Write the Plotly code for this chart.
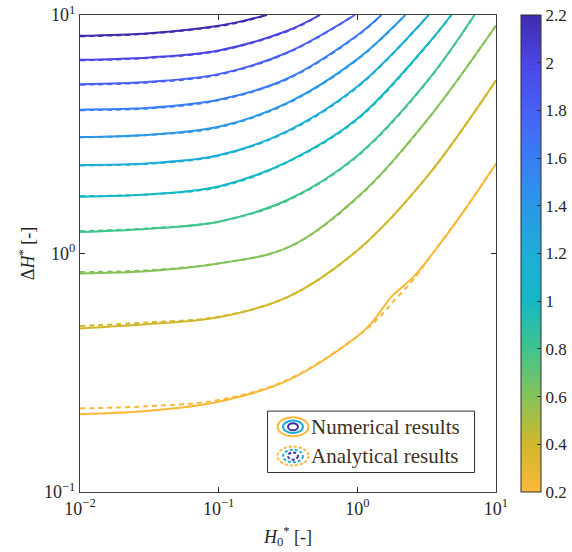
import plotly.graph_objects as go

# ---------------- data ----------------
levels = [0.2, 0.4, 0.6, 0.8, 1.0, 1.2, 1.4, 1.6, 1.8, 2.0, 2.2]
level_ticktext = ["0.2", "0.4", "0.6", "0.8", "1", "1.2", "1.4", "1.6", "1.8", "2", "2.2"]

# numerical results (solid lines)
num_x_02 = [0.01, 0.0316, 0.1, 0.316, 0.96, 1.26, 1.76, 2.52, 3.49, 5.93, 10.0]
num_y_02 = [0.212, 0.219, 0.239, 0.294, 0.441, 0.509, 0.658, 0.794, 1.00, 1.52, 2.38]
num_x_04 = [0.01, 0.0316, 0.1, 0.316, 1.0, 3.16, 10.0]
num_y_04 = [0.485, 0.506, 0.540, 0.658, 1.03, 2.09, 5.32]
num_x_06 = [0.01, 0.0316, 0.1, 0.316, 1.0, 3.16, 10.0]
num_y_06 = [0.824, 0.845, 0.908, 1.06, 1.72, 3.61, 9.04]
num_x_08 = [0.01, 0.0316, 0.1, 0.316, 1.0, 3.16, 7.0]
num_y_08 = [1.23, 1.27, 1.36, 1.68, 2.57, 5.24, 10.0]
num_x_10 = [0.01, 0.0316, 0.1, 0.316, 1.0, 3.16, 4.76]
num_y_10 = [1.73, 1.77, 1.91, 2.43, 3.67, 7.45, 10.0]
num_x_12 = [0.01, 0.0316, 0.1, 0.316, 1.0, 3.27]
num_y_12 = [2.35, 2.39, 2.58, 3.27, 5.01, 10.0]
num_x_14 = [0.01, 0.0316, 0.1, 0.316, 1.0, 2.22]
num_y_14 = [3.08, 3.15, 3.40, 4.29, 6.53, 10.0]
num_x_16 = [0.01, 0.0316, 0.1, 0.316, 1.0, 1.49]
num_y_16 = [4.01, 4.08, 4.41, 5.43, 8.22, 10.0]
num_x_18 = [0.01, 0.0316, 0.1, 0.316, 0.96]
num_y_18 = [5.12, 5.25, 5.65, 6.98, 10.0]
num_x_20 = [0.01, 0.0316, 0.1, 0.316, 0.537]
num_y_20 = [6.49, 6.64, 7.10, 8.61, 10.0]
num_x_22 = [0.01, 0.0316, 0.1, 0.147, 0.223]
num_y_22 = [8.18, 8.39, 9.02, 9.42, 10.0]

# analytical results (dashed lines)
ana_x_02 = [0.01, 0.0316, 0.1, 0.316, 0.96, 1.26, 1.53, 1.81, 2.52, 3.49, 5.93, 10.0]
ana_y_02 = [0.224, 0.229, 0.243, 0.296, 0.441, 0.501, 0.561, 0.627, 0.774, 1.00, 1.52, 2.38]
ana_x_04 = [0.01, 0.0316, 0.1, 0.316, 1.0, 3.16, 10.0]
ana_y_04 = [0.497, 0.514, 0.543, 0.658, 1.03, 2.09, 5.32]
ana_x_06 = [0.01, 0.0316, 0.1, 0.316, 1.0, 3.16, 10.0]
ana_y_06 = [0.836, 0.851, 0.910, 1.06, 1.71, 3.60, 9.04]
ana_x_08 = [0.01, 0.0316, 0.1, 0.316, 1.0, 3.16, 7.0]
ana_y_08 = [1.24, 1.275, 1.36, 1.67, 2.56, 5.22, 10.0]
ana_x_10 = [0.01, 0.0316, 0.1, 0.316, 1.0, 3.16, 4.76]
ana_y_10 = [1.74, 1.77, 1.90, 2.42, 3.65, 7.42, 10.0]
ana_x_12 = [0.01, 0.0316, 0.1, 0.316, 1.0, 3.27]
ana_y_12 = [2.34, 2.38, 2.57, 3.25, 4.98, 10.0]
ana_x_14 = [0.01, 0.0316, 0.1, 0.316, 1.0, 2.22]
ana_y_14 = [3.07, 3.14, 3.38, 4.27, 6.50, 10.0]
ana_x_16 = [0.01, 0.0316, 0.1, 0.316, 1.0, 1.49]
ana_y_16 = [3.99, 4.06, 4.39, 5.40, 8.18, 10.0]
ana_x_18 = [0.01, 0.0316, 0.1, 0.316, 0.96]
ana_y_18 = [5.10, 5.22, 5.62, 6.95, 10.0]
ana_x_20 = [0.01, 0.0316, 0.1, 0.316, 0.537]
ana_y_20 = [6.46, 6.61, 7.07, 8.57, 10.0]
ana_x_22 = [0.01, 0.0316, 0.1, 0.147, 0.223]
ana_y_22 = [8.14, 8.35, 8.97, 9.38, 10.0]

x_tickvals = [0.01, 0.1, 1, 10]
x_ticktext = ["10<sup>\u22122</sup>", "10<sup>\u22121</sup>", "10<sup>0</sup>", "10<sup>1</sup>"]
y_tickvals = [0.1, 1, 10]
y_ticktext = ["10<sup>\u22121</sup>", "10<sup>0</sup>", "10<sup>1</sup>"]

# ---------------- styles ----------------
colors = ["#fbb83b", "#d0b82a", "#86c25a", "#40c48e", "#14b8c4", "#1daed8",
          "#2b97e6", "#3a7df5", "#4761f5", "#4a45e4", "#3f2bad"]

num_series = [(num_x_02, num_y_02), (num_x_04, num_y_04), (num_x_06, num_y_06),
              (num_x_08, num_y_08), (num_x_10, num_y_10), (num_x_12, num_y_12),
              (num_x_14, num_y_14), (num_x_16, num_y_16), (num_x_18, num_y_18),
              (num_x_20, num_y_20), (num_x_22, num_y_22)]
ana_series = [(ana_x_02, ana_y_02), (ana_x_04, ana_y_04), (ana_x_06, ana_y_06),
              (ana_x_08, ana_y_08), (ana_x_10, ana_y_10), (ana_x_12, ana_y_12),
              (ana_x_14, ana_y_14), (ana_x_16, ana_y_16), (ana_x_18, ana_y_18),
              (ana_x_20, ana_y_20), (ana_x_22, ana_y_22)]

SERIF = "Liberation Serif"
TXT = "#262626"

fig = go.Figure()
for (xs, ys), c in zip(num_series, colors):
    fig.add_trace(go.Scatter(x=xs, y=ys, mode="lines", showlegend=False,
                             line=dict(color=c, width=2, shape="spline", smoothing=1.0)))
for (xs, ys), c in zip(ana_series, colors):
    fig.add_trace(go.Scatter(x=xs, y=ys, mode="lines", showlegend=False,
                             line=dict(color=c, width=2, dash="5px,4px", shape="spline", smoothing=1.0)))

lo, hi = levels[0], levels[-1]
cscale = [[(lv - lo) / (hi - lo), c] for lv, c in zip(levels, colors)]

# colorbar holder
fig.add_trace(go.Scatter(
    x=[None], y=[None], mode="markers", showlegend=False, hoverinfo="skip",
    marker=dict(color=[lo], cmin=lo, cmax=hi, colorscale=cscale, showscale=True,
                colorbar=dict(thickness=20, len=1.0, lenmode="fraction", y=0.5, yanchor="middle",
                              x=1.059, xanchor="left", xpad=0, ypad=0,
                              outlinewidth=1, outlinecolor="#303030",
                              tickvals=levels, ticktext=level_ticktext,
                              ticks="inside", ticklen=4, tickcolor="#303030",
                              tickfont=dict(family=SERIF, size=17, color=TXT)))))

# plot area pixel geometry
L, R, T, B = 79.5, 496.5, 14.5, 492.0
W, H = 572, 552


def px(x):
    return (x - L) / (R - L)


def py(y):
    return (B - y) / (B - T)


shapes = []
# legend box
shapes.append(dict(type="rect", xref="paper", yref="paper",
                   x0=px(267.5), x1=px(475), y0=py(472.5), y1=py(411),
                   line=dict(color="#303030", width=1), fillcolor="white", layer="above"))


def ell(cx, cy, rx, ry, color, dash="solid", w=2):
    return dict(type="circle", xref="paper", yref="paper",
                x0=px(cx - rx), x1=px(cx + rx), y0=py(cy + ry), y1=py(cy - ry),
                line=dict(color=color, width=w, dash=dash), layer="above")


for cy, dash in [(426.7, "solid"), (456.0, "3px,2px")]:
    shapes.append(ell(293, cy, 15.5, 9.5, colors[0], dash))
    shapes.append(ell(293, cy, 10.0, 6.3, colors[5], dash))
    shapes.append(ell(293, cy, 5.0, 3.6, colors[10], dash))

annotations = [
    dict(text="Numerical results", xref="paper", yref="paper", x=px(309), y=py(427),
         xanchor="left", yanchor="middle", showarrow=False,
         font=dict(family=SERIF, size=21, color="#3e3024")),
    dict(text="Analytical results", xref="paper", yref="paper", x=px(309), y=py(456),
         xanchor="left", yanchor="middle", showarrow=False,
         font=dict(family=SERIF, size=21, color="#3e3024")),
]

axis_common = dict(type="log", showgrid=False, zeroline=False, showline=True,
                   linecolor="#404040", linewidth=1, mirror="ticks",
                   ticks="inside", ticklen=5, tickcolor="#303030",
                   tickfont=dict(family=SERIF, size=18, color=TXT))

fig.update_layout(
    width=W, height=H,
    margin=dict(l=L, r=W - R, t=T, b=H - B, autoexpand=False),
    paper_bgcolor="white", plot_bgcolor="white",
    xaxis=dict(range=[-2, 1], tickvals=x_tickvals, ticktext=x_ticktext,
               title=dict(text="<i>H</i><sub>0</sub><sup>*</sup> [-]",
                          font=dict(family=SERIF, size=18, color=TXT), standoff=12),
               **axis_common),
    yaxis=dict(range=[-1, 1], tickvals=y_tickvals, ticktext=y_ticktext,
               title=dict(text="\u0394<i>H</i><sup>*</sup> [-]",
                          font=dict(family=SERIF, size=18, color=TXT), standoff=4),
               **axis_common),
    shapes=shapes, annotations=annotations,
)

fig.write_html("out.html")
